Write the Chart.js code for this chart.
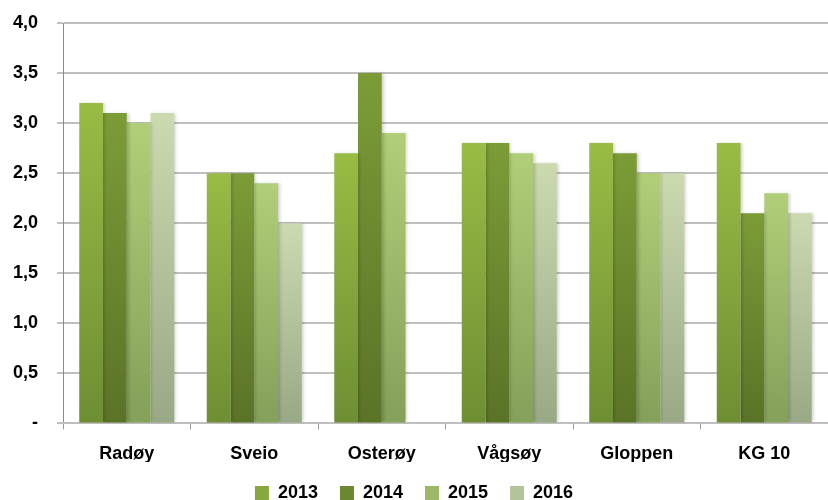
<!DOCTYPE html>
<html>
<head>
<meta charset="utf-8">
<script src="https://cdn.jsdelivr.net/npm/chart.js@4"></script>
<style>
  html, body { margin: 0; padding: 0; background: #fff; }
  #wrap { width: 828px; height: 500px; }
</style>
</head>
<body>
<div id="wrap"><canvas id="grafico"></canvas></div>
<script>
// Dados do gráfico
const kommuner = ['Radøy', 'Sveio', 'Osterøy', 'Vågsøy', 'Gloppen', 'KG 10'];
const aar = ['2013', '2014', '2015', '2016'];
const verdier2013 = [3.2, 2.5, 2.7, 2.8, 2.8, 2.8];
const verdier2014 = [3.1, 2.5, 3.5, 2.8, 2.7, 2.1];
const verdier2015 = [3.0, 2.4, 2.9, 2.7, 2.5, 2.3];
const verdier2016 = [3.1, 2.0, null, 2.6, 2.5, 2.1];
const yTickLabels = ['-', '0,5', '1,0', '1,5', '2,0', '2,5', '3,0', '3,5', '4,0'];

// Cores (topo / base do gradiente)
const coresTopo = ['#98BC44', '#7C9C37', '#B0CF78', '#CBDAAF'];
const coresBase = ['#6E8E33', '#5A7327', '#84A059', '#99A985'];
const coresLegenda = ['#86A83C', '#6B8830', '#9CB968', '#B4C49A'];

const fonte = { family: "'Liberation Sans', Arial, sans-serif", size: 18, weight: 'bold' };

function gradienteBarra(context, idx) {
    const chart = context.chart;
    if (context.type !== 'data' || context.raw == null) return coresLegenda[idx];
    const y = chart.scales.y;
    if (!y || !chart.chartArea) return coresLegenda[idx];
    const topo = y.getPixelForValue(context.raw);
    const base = y.getPixelForValue(0);
    const g = chart.ctx.createLinearGradient(0, topo, 0, base);
    g.addColorStop(0, coresTopo[idx]);
    g.addColorStop(1, coresBase[idx]);
    return g;
}

const series = [verdier2013, verdier2014, verdier2015, verdier2016];

const sombra = {
    id: 'sombra',
    beforeDatasetsDraw(chart) {
        const ctx = chart.ctx;
        ctx.save();
        ctx.shadowColor = 'rgba(0,0,0,0.18)';
        ctx.shadowBlur = 3;
        ctx.shadowOffsetX = 2;
        ctx.shadowOffsetY = 0;
    },
    afterDatasetsDraw(chart) {
        chart.ctx.restore();
    }
};

new Chart(document.getElementById('grafico').getContext('2d'), {
    type: 'bar',
    data: {
        labels: kommuner,
        datasets: series.map((dados, i) => ({
            label: aar[i],
            data: dados,
            backgroundColor: ctx => gradienteBarra(ctx, i),
            borderWidth: 0,
            barPercentage: 1.0,
            categoryPercentage: 0.745
        }))
    },
    options: {
        responsive: true,
        maintainAspectRatio: false,
        animation: false,
        layout: { padding: { top: 23, right: 0, left: 0, bottom: -12 } },
        scales: {
            y: {
                min: 0,
                max: 4,
                ticks: {
                    stepSize: 0.5,
                    color: '#000',
                    font: fonte,
                    padding: 19,
                    callback: (v, i) => yTickLabels[i]
                },
                grid: { color: '#BFBFBF', lineWidth: 2, tickLength: 6 },
                border: { color: '#8C8C8C', width: 1 },
                afterFit: s => {
                    s.width = 63;
                    s.paddingTop = 0;
                    s.paddingBottom = 0;
                }
            },
            x: {
                ticks: { color: '#000', font: fonte, padding: 14 },
                grid: { drawOnChartArea: false, drawTicks: true, tickLength: 6, color: '#9A9A9A' },
                border: { color: '#BFBFBF', width: 2 },
                afterFit: s => { s.height -= 17; }
            }
        },
        plugins: {
            legend: {
                position: 'bottom',
                labels: {
                    color: '#000',
                    font: fonte,
                    boxWidth: 14,
                    boxHeight: 14,
                    padding: 22,
                    generateLabels: chart => chart.data.datasets.map((ds, i) => ({
                        text: ds.label,
                        fillStyle: coresLegenda[i],
                        strokeStyle: coresLegenda[i],
                        lineWidth: 0,
                        hidden: false,
                        datasetIndex: i
                    }))
                }
            },
            tooltip: { enabled: false }
        }
    },
    plugins: [sombra]
});
</script>
</body>
</html>
